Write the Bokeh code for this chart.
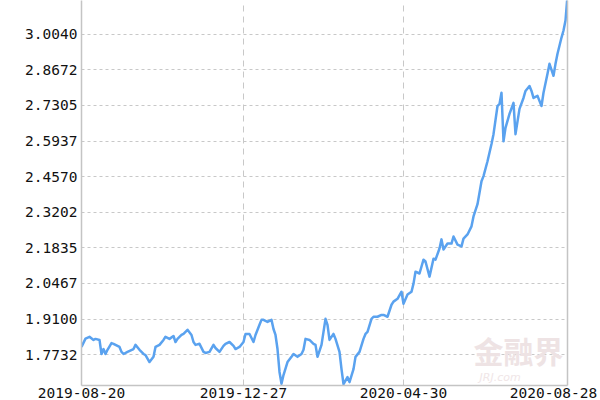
from bokeh.plotting import figure
from bokeh.models import Range1d, FixedTicker, LinearAxis, Label
from bokeh.embed import file_html
from bokeh.resources import INLINE

# trading-day index and fund NAV
days = [0, 2, 4, 6, 7, 9, 10, 11, 12, 13, 15, 16, 17, 19, 20, 21, 23, 26, 27, 29,
        31, 32, 34, 36, 37, 39, 41, 42, 44, 46, 47, 48, 50, 51, 53, 55, 56, 57, 59, 61,
        62, 64, 66, 67, 69, 71, 72, 74, 76, 77, 79, 81, 82, 84, 86, 87, 89, 90, 91, 93,
        95, 96, 97, 98, 99, 100, 101, 103, 105, 106, 108, 110,
        111, 112, 114, 116, 117, 118, 120, 121, 122, 123, 124, 126, 127, 129, 130, 131,
        133, 134, 136, 137, 139, 141, 142, 143, 145, 146, 148, 150, 151, 153, 155, 156,
        158, 160, 161, 163, 165,
        166, 167, 169, 171, 172, 174, 176, 177, 179, 180, 181, 183, 185, 186, 188, 190,
        191, 193, 195, 196, 198,
        200, 201, 203, 205, 206, 208, 209, 210, 211, 212, 214, 216, 217, 219, 221, 222,
        224, 225, 226, 228, 230, 231, 233, 234, 236, 237, 238, 240, 241, 242, 243]
nav = [1.803, 1.835, 1.842, 1.830, 1.834, 1.830, 1.776, 1.795, 1.776, 1.792, 1.818, 1.815,
       1.811, 1.803, 1.784, 1.776, 1.784, 1.795, 1.811, 1.792, 1.776, 1.772, 1.745, 1.765,
       1.803, 1.811, 1.830, 1.842, 1.834, 1.845, 1.822, 1.834, 1.849, 1.853, 1.869, 1.849,
       1.822, 1.811, 1.815, 1.784, 1.780, 1.784, 1.811, 1.799, 1.784, 1.807, 1.815, 1.822,
       1.807, 1.795, 1.803, 1.822, 1.853, 1.853, 1.822, 1.849, 1.888, 1.907, 1.907, 1.899,
       1.907, 1.872, 1.849, 1.795, 1.707, 1.662, 1.695, 1.745, 1.765, 1.776, 1.765, 1.776,
       1.792, 1.834, 1.830, 1.815, 1.811, 1.765, 1.811, 1.861, 1.911, 1.888, 1.830, 1.853,
       1.834, 1.784, 1.718, 1.660, 1.687, 1.668, 1.718, 1.765, 1.784, 1.834, 1.853, 1.861,
       1.911, 1.919, 1.919, 1.926, 1.926, 1.919, 1.965, 1.977, 1.988, 2.015, 1.969, 2.004,
       2.015,
       2.046, 2.092, 2.085, 2.138, 2.131, 2.073, 2.142, 2.138, 2.181, 2.216, 2.177, 2.200,
       2.200, 2.227, 2.196, 2.189, 2.219, 2.235, 2.266, 2.304, 2.351,
       2.439, 2.459, 2.516, 2.582, 2.620, 2.728, 2.736, 2.779, 2.593, 2.644, 2.698, 2.740,
       2.620, 2.717, 2.759, 2.786, 2.805, 2.786, 2.759, 2.767, 2.728, 2.779, 2.852, 2.890,
       2.844, 2.890, 2.929, 2.991, 3.018, 3.056, 3.152]

y_ticks = [1.7732, 1.9100, 2.0467, 2.1835, 2.3202, 2.4570, 2.5937, 2.7305, 2.8672, 3.0040]
y_labels = ["1.7732", "1.9100", "2.0467", "2.1835", "2.3202", "2.4570", "2.5937",
            "2.7305", "2.8672", "3.0040"]
x_ticks = [0, 81, 161, 236]
x_labels = ["2019-08-20", "2019-12-27", "2020-04-30", "2020-08-28"]
x_grid_ticks = [81, 161]

p = figure(width=600, height=400, output_backend="svg", toolbar_location=None,
           x_range=Range1d(0, 243), y_range=Range1d(1.655, 3.1332),
           min_border_left=81, min_border_right=33, min_border_top=0, min_border_bottom=10)
p.outline_line_color = None
p.background_fill_color = "white"
p.border_fill_color = "white"

font = "DejaVu Sans Mono"

p.yaxis.ticker = FixedTicker(ticks=y_ticks)
p.yaxis.major_label_overrides = dict(zip(y_ticks, y_labels))
p.xaxis.ticker = FixedTicker(ticks=x_ticks)
p.xaxis.major_label_overrides = dict(zip(x_ticks, x_labels))
for ax in (p.xaxis[0], p.yaxis[0]):
    ax.axis_line_color = "#c4c4c4"
    ax.axis_line_width = 1.5
    ax.major_tick_line_color = None
    ax.minor_tick_line_color = None
    ax.major_tick_out = 0
    ax.major_tick_in = 0
    ax.major_label_text_font = font
    ax.major_label_text_font_size = "14.5px"
    ax.major_label_text_color = "#111111"
p.yaxis.major_label_standoff = 4
p.xaxis.major_label_standoff = 2

right = LinearAxis(axis_line_color="#c4c4c4", axis_line_width=1.5,
                   major_tick_line_color=None, minor_tick_line_color=None,
                   major_label_text_font_size="0px", major_tick_out=0, major_tick_in=0)
right.ticker = FixedTicker(ticks=[])
p.add_layout(right, "right")

p.ygrid.ticker = FixedTicker(ticks=y_ticks)
p.ygrid.grid_line_color = "#c8c8c8"
p.ygrid.grid_line_dash = "3 3"
p.xgrid.ticker = FixedTicker(ticks=x_grid_ticks)
p.xgrid.grid_line_color = "#c8c8c8"
p.xgrid.grid_line_dash = "6 5"

# faint watermark
p.add_layout(Label(x=196, y=1.706, text="金融界", text_font="Noto Sans CJK SC",
                   text_font_size="30px", text_color="#eee3e4", text_font_style="bold"))
p.add_layout(Label(x=199, y=1.662, text="JRJ.com", text_font="DejaVu Sans",
                   text_font_size="11px", text_color="#f0e6e7", text_font_style="italic"))

p.line(x=days, y=nav, line_color="#5aa2ef", line_width=2.5, line_join="round")

open("out.html", "w").write(file_html(p, INLINE))
